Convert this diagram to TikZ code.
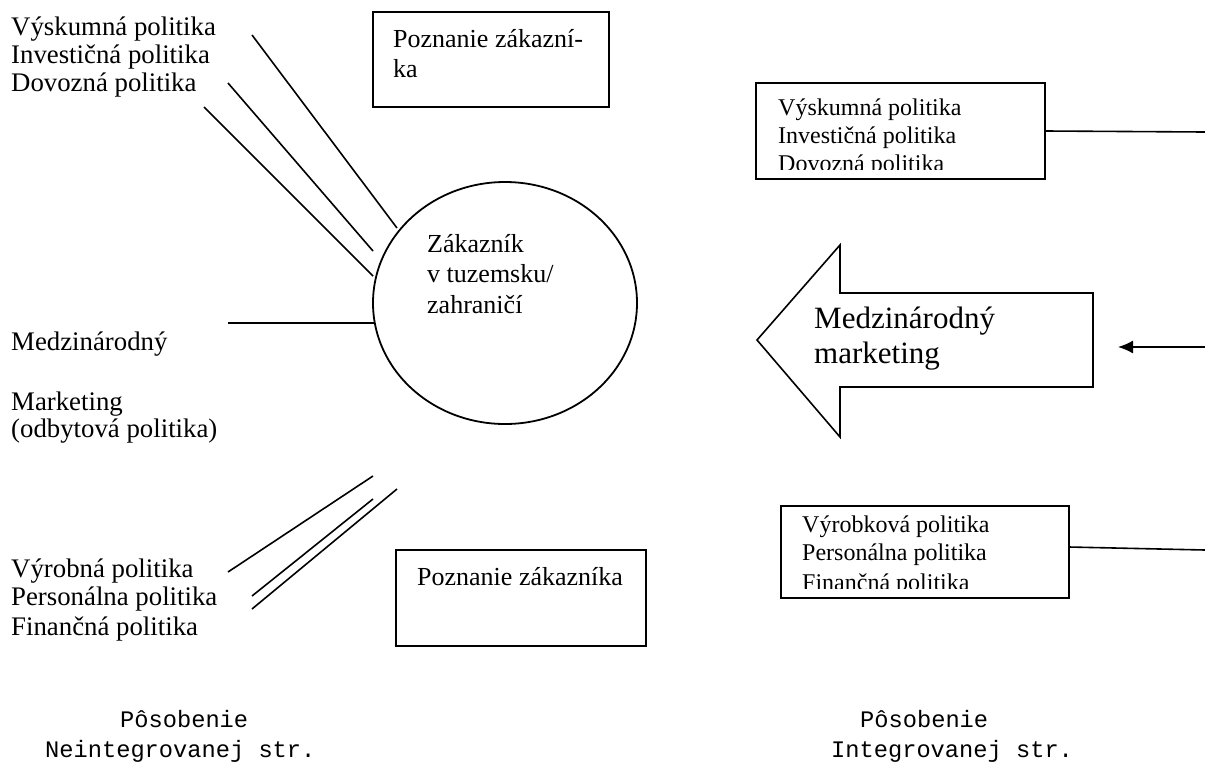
\documentclass[tikz,border=0pt]{standalone}
\usepackage{fontspec}
\setmainfont{Liberation Serif}
\setmonofont{Liberation Mono}
\usetikzlibrary{arrows.meta,shapes.geometric}
\begin{document}
\begin{tikzpicture}[x=1pt,y=-1pt,
  txt/.style={anchor=base west,inner sep=0pt,font=\fontsize{26}{30}\selectfont},
  ltxt/.style={anchor=base west,inner sep=0pt,font=\fontsize{26.8}{30}\selectfont},
  rtxt/.style={anchor=base west,inner sep=0pt,font=\fontsize{24}{28}\selectfont},
  bigtxt/.style={anchor=base west,inner sep=0pt,font=\fontsize{31}{35}\selectfont},
  mono/.style={anchor=base west,inner sep=0pt,font=\fontsize{23.7}{28}\selectfont\ttfamily},
  conn/.style={line width=1.6pt},
  frame/.style={draw,line width=2.2pt,inner sep=0pt},
]
\useasboundingbox[fill=white] (0,0) rectangle (1205,772);

% customer ellipse
\node[draw,ellipse,line width=1.8pt,inner sep=0pt,minimum width=264pt,minimum height=242pt] (cust) at (505,303) {};
\node[txt] (c1) at (427,252) {Zákazník};
\node[txt] (c2) at (427,282) {v tuzemsku/};
\node[txt] (c3) at (427,313) {zahraničí};

% top-left labels
\node[ltxt] (l1) at (11,35) {Výskumná politika};
\node[ltxt] (l2) at (11,63) {Investičná politika};
\node[ltxt] (l3) at (11,91) {Dovozná politika};
\coordinate (a1s) at (252,35);  \coordinate (a1e) at (397,228);
\coordinate (a2s) at (228,83);  \coordinate (a2e) at (373,251);
\coordinate (a3s) at (204,107); \coordinate (a3e) at (373,276);
\draw[conn] (a1s) -- (a1e);
\draw[conn] (a2s) -- (a2e);
\draw[conn] (a3s) -- (a3e);

% middle-left labels
\node[ltxt] (m1) at (11,350) {Medzinárodný};
\node[ltxt] (m2) at (11,410) {Marketing};
\node[ltxt] (m3) at (11,437) {(odbytová politika)};
\coordinate (ms) at (228,323);
\coordinate (me) at (374,323);
\draw[conn] (ms) -- (me);

% bottom-left labels
\node[ltxt] (b1) at (11,577) {Výrobná politika};
\node[ltxt] (b2) at (11,605) {Personálna politika};
\node[ltxt] (b3) at (11,635) {Finančná politika};
\coordinate (d1s) at (228,572); \coordinate (d1e) at (373,476);
\coordinate (d2s) at (252,596); \coordinate (d2e) at (373,499);
\coordinate (d3s) at (252,609); \coordinate (d3e) at (397,489);
\draw[conn] (d1s) -- (d1e);
\draw[conn] (d2s) -- (d2e);
\draw[conn] (d3s) -- (d3e);

% knowledge boxes
\node[frame,minimum width=236pt,minimum height=95pt] (k1) at (491,59.5) {};
\node[txt] (k1a) at (393,47) {Poznanie zákazní-};
\node[txt] (k1b) at (393,77) {ka};
\node[frame,minimum width=250pt,minimum height=96pt] (k2) at (521,598) {};
\node[txt] (k2a) at (417,585) {Poznanie zákazníka};

% right boxes
\node[frame,minimum width=289pt,minimum height=96pt] (rb1) at (900.5,131) {};
\begin{scope}
\clip (758,85) rectangle (1043,169);
\node[rtxt] (r1a) at (778,115) {Výskumná politika};
\node[rtxt] (r1b) at (778,143) {Investičná politika};
\node[rtxt] (r1c) at (778,171) {Dovozná politika};
\end{scope}
\coordinate (r1e) at (1205,132);
\draw[conn] (rb1.east) -- (r1e);

\node[frame,minimum width=288pt,minimum height=92pt] (rb2) at (925,552) {};
\begin{scope}
\clip (783,508) rectangle (1067,588);
\node[rtxt] (r2a) at (802,532) {Výrobková politika};
\node[rtxt] (r2b) at (802,560) {Personálna politika};
\node[rtxt] (r2c) at (802,590) {Finančná politika};
\end{scope}
\coordinate (r2s) at (1069,547); \coordinate (r2e) at (1205,550);
\draw[conn] (r2s) -- (r2e);

% big arrow
\draw[line width=1.6pt,line join=miter] (757,340) -- (840,245) -- (840,293) -- (1093,293) -- (1093,387) -- (840,387) -- (840,437) -- cycle;
\node[bigtxt] (ar1) at (814,328) {Medzinárodný};
\node[bigtxt] (ar2) at (814,363) {marketing};

% small arrow
\coordinate (sa0) at (1205,347); \coordinate (sa1) at (1118,347);
\draw[conn,-{Latex[length=15pt,width=13pt]}] (sa0) -- (sa1);

% bottom captions
\node[mono] (p1) at (120,727) {Pôsobenie};
\node[mono] (p2) at (45,757) {Neintegrovanej str.};
\node[mono] (p3) at (860,727) {Pôsobenie};
\node[mono] (p4) at (831,757) {Integrovanej str.};
\end{tikzpicture}
\end{document}
